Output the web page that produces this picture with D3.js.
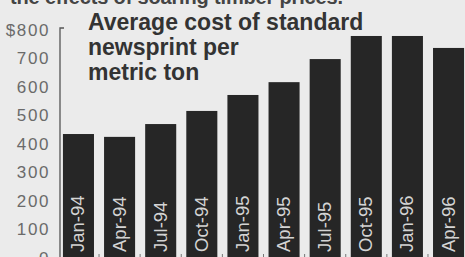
<!DOCTYPE html>
<html>
<head>
<meta charset="utf-8">
<script src="https://cdn.jsdelivr.net/npm/d3@7"></script>
<style>
  html, body { margin:0; padding:0; background:#ebebeb; }
  svg { display:block; font-family:"Liberation Sans", Arial, sans-serif; }
</style>
</head>
<body>
<div id="chart"></div>
<script>
// quarterly newsprint cost, $ per metric ton
const quarters = ["Jan-94","Apr-94","Jul-94","Oct-94","Jan-95","Apr-95","Jul-95","Oct-95","Jan-96","Apr-96"];
const costs = [435, 425, 470, 516, 572, 617, 698, 779, 779, 737];
const yTicks = [0, 100, 200, 300, 400, 500, 600, 700, 800];
const titleLines = ["Average cost of standard", "newsprint per", "metric ton"];

const width = 465, height = 257;

const svg = d3.select("#chart").append("svg")
  .attr("width", width).attr("height", height);

svg.append("rect").attr("width", width).attr("height", height).attr("fill", "#ebebeb");

// scales
const x = d3.scaleBand()
  .domain(quarters)
  .range([58, 469])
  .paddingInner(0.245)
  .paddingOuter(0.12);

const y = d3.scaleLinear()
  .domain([0, 800])
  .range([258, 30]);

// cut-off line of story text at the top
svg.append("text")
  .attr("x", 10).attr("y", 4)
  .attr("textLength", 333)
  .style("font-size", "20px").style("font-weight", "bold")
  .style("fill", "#444")
  .text("the effects of soaring timber prices.");

// bars
svg.selectAll("rect.bar")
  .data(costs)
  .join("rect")
    .attr("class", "bar")
    .attr("x", (d, i) => x(quarters[i]))
    .attr("y", d => y(d))
    .attr("width", x.bandwidth())
    .attr("height", d => y(0) - y(d))
    .attr("fill", "#262626");

// labels inside bars, rotated
svg.selectAll("text.qlab")
  .data(quarters)
  .join("text")
    .attr("class", "qlab")
    .attr("transform", d => `translate(${x(d) + x.bandwidth() / 2 + 6},252) rotate(-90)`)
    .style("font-size", "18.5px")
    .style("fill", "#d4d4d4")
    .text(d => d);

// y axis
const yAxis = d3.axisLeft(y).tickValues(yTicks).tickSize(0).tickPadding(10)
  .tickFormat(d => d === 800 ? "$800" : d);

const ya = svg.append("g")
  .attr("transform", "translate(60,0)")
  .call(yAxis);
ya.select(".domain").attr("stroke", "#555").attr("stroke-width", 1.3)
  .attr("d", `M4,${y(800) - 2}H0V${height}`);
ya.selectAll("text")
  .style("font-family", "Liberation Sans, Arial, sans-serif")
  .style("font-size", "17px")
  .style("letter-spacing", "1.6px")
  .style("fill", "#6a6a6a");

// small ticks at the base between bars
svg.selectAll("line.btick")
  .data(quarters.slice(1))
  .join("line")
    .attr("class", "btick")
    .attr("x1", d => x(d) - x.step() * x.paddingInner() / 2)
    .attr("x2", d => x(d) - x.step() * x.paddingInner() / 2)
    .attr("y1", 254).attr("y2", 258)
    .attr("stroke", "#777").attr("stroke-width", 1);

// title
svg.append("g").selectAll("text")
  .data(titleLines)
  .join("text")
    .attr("x", 88)
    .attr("y", (d, i) => 30 + i * 25)
    .style("font-size", "23px")
    .style("font-weight", "bold")
    .style("fill", "#333")
    .text(d => d);
</script>
</body>
</html>
